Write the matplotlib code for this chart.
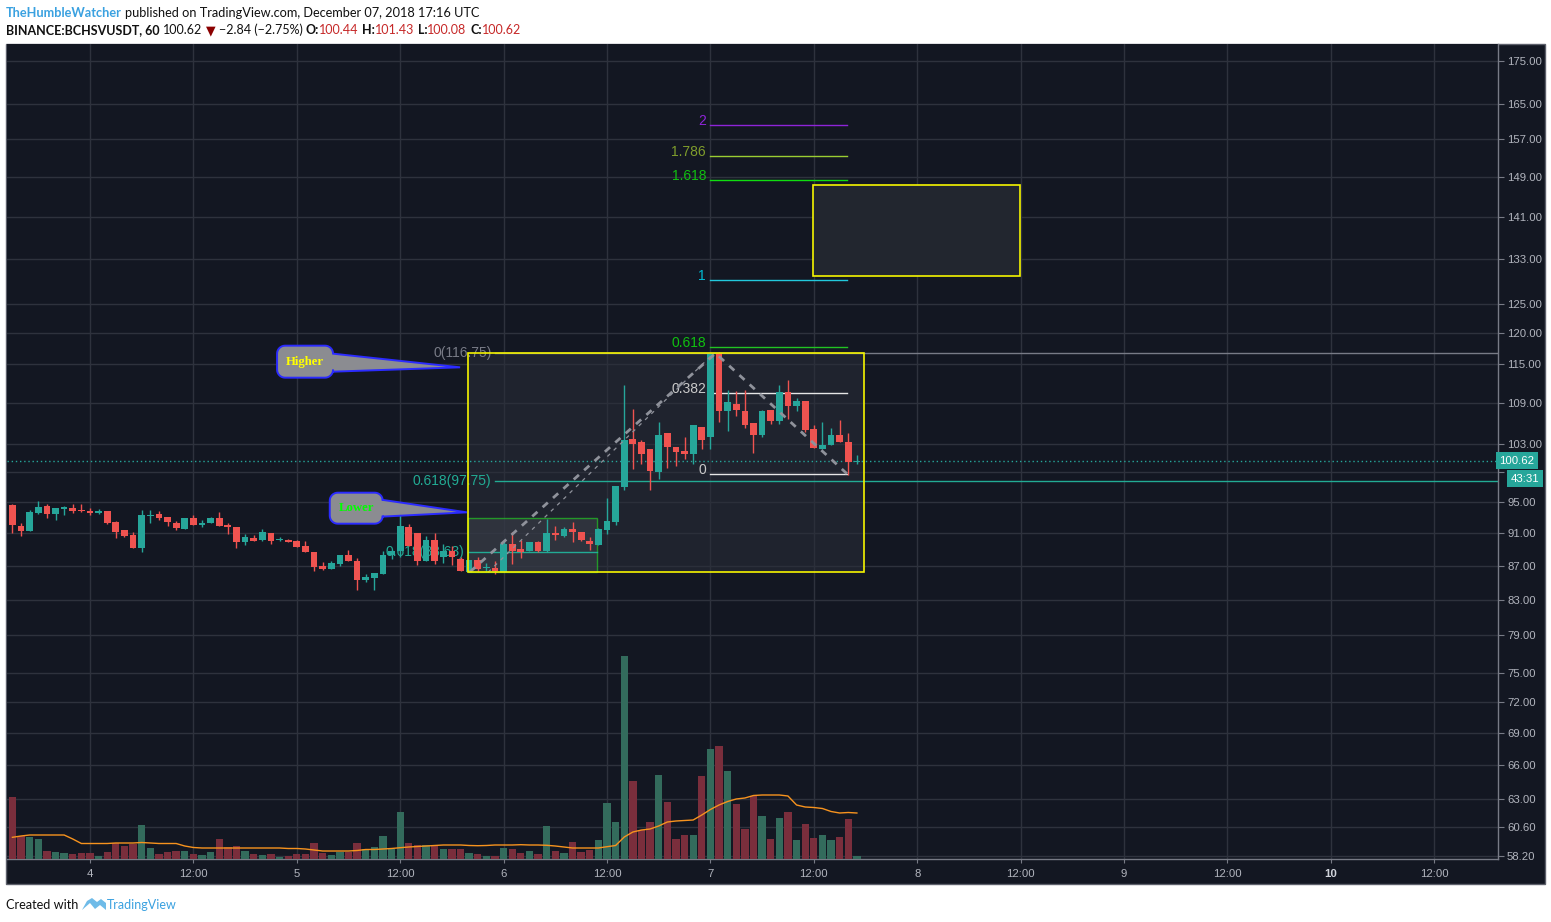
import matplotlib
matplotlib.use('Agg')
import numpy as np
import matplotlib.pyplot as plt
from matplotlib.patches import Rectangle, Polygon
from matplotlib.transforms import IdentityTransform
from matplotlib.ticker import FixedLocator, NullLocator

plt.rcParams['font.family'] = ['Liberation Sans', 'DejaVu Sans']

W, H = 1551, 922
BG = '#131722'
GRID = '#2e323d'
AXC = '#787b86'
TXT = '#b2b5be'
UP, DOWN = '#26a69a', '#ef5350'
VUP, VDOWN = '#336b5c', '#7a2e3c'

# hourly BCHSV/USDT candles, first bar Dec 3 15:00 UTC (x axis = hours from Dec 4 00:00)
first_hour = -9
opens = [94.6, 91.95, 91.3, 93.56, 94.43, 93.4, 94.1, 94.26, 94.0, 93.87,
         93.56, 93.8, 92.4, 91.4, 90.8, 89.1, 93.2, 93.5, 93.1, 92.3,
         91.56, 92.87, 92.0, 92.26, 92.87, 92.04, 91.8, 89.95, 90.4, 90.17,
         91.0, 90.1, 90.17, 90.0, 89.4, 88.7, 86.96, 86.57, 87.2, 88.3,
         87.6, 85.3, 85.55, 86.0, 88.3, 88.8, 91.8, 91.0, 87.5, 90.1,
         88.0, 88.8, 87.8, 86.2, 87.7, 86.7, 86.75, 86.2, 89.6, 89.0,
         88.8, 89.9, 88.8, 91.0, 90.7, 91.55, 91.1, 90.05, 89.55, 91.4,
         92.4, 97.0, 103.7, 103.3, 102.2, 99.0, 104.5, 102.6, 101.9, 101.5,
         105.4, 103.9, 116.75, 107.8, 108.8, 107.8, 106.0, 104.3, 108.0, 106.3,
         110.7, 108.6, 109.3, 105.1, 102.2, 102.8, 104.3, 103.3, 100.44]
highs = [94.7, 92.26, 94.0, 95.2, 94.7, 94.17, 94.5, 94.7, 94.8, 94.26,
         94.1, 93.8, 92.6, 91.4, 91.1, 94.0, 94.0, 93.8, 93.1, 92.6,
         92.87, 93.26, 92.7, 93.05, 93.65, 92.26, 91.8, 90.9, 90.8, 91.5,
         91.0, 90.55, 90.25, 90.1, 90.0, 88.7, 87.4, 87.5, 88.3, 88.9,
         87.9, 86.0, 86.1, 88.8, 88.9, 93.6, 92.1, 91.0, 90.7, 91.0,
         89.7, 89.4, 88.0, 87.7, 88.1, 87.3, 87.5, 90.15, 91.1, 90.15,
         89.9, 90.0, 92.85, 91.95, 91.8, 92.4, 91.1, 90.5, 91.6, 95.6,
         97.2, 111.7, 108.1, 103.6, 102.2, 106.2, 104.5, 102.6, 104.0, 105.7,
         105.4, 116.75, 117.0, 110.9, 110.8, 110.9, 106.0, 108.0, 108.0, 111.7,
         112.5, 109.8, 109.3, 105.7, 106.2, 105.2, 106.4, 104.5, 101.43]
lows = [91.0, 90.7, 91.3, 93.5, 92.9, 92.7, 93.3, 93.56, 93.7, 93.3,
        93.5, 92.2, 90.4, 90.5, 89.1, 88.6, 92.26, 92.7, 91.95, 91.4,
        91.5, 92.0, 91.8, 92.26, 91.87, 90.9, 89.1, 89.55, 90.0, 90.0,
        89.7, 90.0, 89.85, 89.3, 88.6, 86.4, 86.45, 86.57, 86.96, 87.5,
        84.1, 85.1, 84.1, 86.0, 87.8, 88.0, 89.4, 87.1, 87.5, 87.2,
        87.3, 87.1, 86.3, 86.2, 86.3, 86.3, 86.0, 86.2, 87.2, 87.9,
        88.8, 88.7, 88.7, 90.15, 90.5, 89.85, 90.0, 88.9, 89.5, 90.9,
        92.0, 96.6, 99.5, 100.2, 96.6, 98.1, 99.6, 99.9, 100.9, 100.2,
        102.3, 102.3, 106.2, 104.9, 107.1, 105.2, 101.7, 104.0, 105.9, 105.9,
        106.6, 107.8, 104.7, 102.4, 102.2, 102.8, 103.3, 98.6, 100.08]
closes = [92.0, 91.3, 93.65, 94.35, 93.4, 94.17, 94.35, 93.8, 93.8, 93.56,
          93.8, 92.26, 91.2, 90.67, 89.1, 93.26, 93.35, 92.9, 92.4, 91.6,
          92.87, 92.0, 92.3, 92.87, 91.87, 91.8, 89.95, 90.55, 90.0, 91.1,
          90.0, 90.3, 89.95, 89.3, 88.6, 86.8, 86.57, 87.3, 88.3, 87.5,
          85.3, 85.6, 86.1, 88.3, 88.8, 91.95, 89.4, 87.5, 90.1, 87.5,
          88.8, 88.0, 86.3, 87.7, 86.6, 86.8, 86.35, 89.6, 88.8, 88.7,
          89.9, 88.8, 91.0, 90.8, 91.55, 91.1, 90.1, 89.7, 91.55, 92.6,
          97.2, 103.6, 103.0, 101.6, 99.15, 104.2, 102.5, 101.8, 101.5, 105.7,
          103.5, 116.7, 107.8, 109.1, 108.0, 105.7, 104.2, 107.8, 106.3, 110.7,
          108.5, 109.3, 105.0, 102.4, 102.8, 104.2, 103.3, 100.44, 100.62]
volumes = [617, 227, 217, 203, 83, 73, 63, 53, 63, 63,
           33, 73, 163, 127, 153, 343, 113, 53, 73, 83,
           83, 53, 43, 73, 203, 123, 133, 83, 53, 43,
           53, 23, 33, 53, 53, 163, 63, 43, 73, 73,
           163, 103, 123, 233, 103, 473, 163, 143, 143, 143,
           103, 103, 103, 63, 53, 33, 33, 113, 103, 60,
           83, 53, 333, 83, 60, 173, 73, 93, 193, 563,
           373, 2033, 783, 293, 373, 843, 573, 203, 243, 243,
           833, 1103, 1133, 883, 553, 303, 633, 433, 203, 413,
           473, 193, 353, 213, 243, 193, 223, 403, 33]
volume_ma = [217, 230, 240, 240, 240, 240, 240, 200, 155, 155,
             155, 155, 160, 160, 160, 165, 160, 155, 155, 155,
             130, 115, 110, 110, 110, 110, 110, 110, 110, 110,
             110, 110, 105, 105, 100, 90, 80, 80, 80, 80,
             85, 95, 95, 100, 105, 113, 120, 125, 130, 135,
             140, 140, 140, 135, 133, 135, 140, 140, 140, 143,
             140, 140, 137, 130, 120, 110, 110, 110, 110, 123,
             135, 220, 270, 290, 300, 330, 370, 380, 385, 390,
             440, 495, 540, 575, 600, 610, 635, 640, 640, 640,
             630, 540, 520, 515, 505, 475, 460, 465, 460]

price_ticks = [58.2, 60.6, 63, 66, 69, 72, 75, 79, 83, 87, 91, 95, 99, 103,
               109, 115, 120, 125, 133, 141, 149, 157, 165, 175]
# the 99.00 label sits under the countdown badge, so it is left blank
price_labels = ['' if p == 99 else '%.2f' % p for p in price_ticks]
time_ticks = [0, 12, 24, 36, 48, 60, 72, 84, 96, 108, 120, 132, 144, 156]
time_labels = ['4', '12:00', '5', '12:00', '6', '12:00', '7', '12:00',
               '8', '12:00', '9', '12:00', '10', '12:00']

# trend based fib extension (levels drawn to the right of the peak)
ext_levels = ['0', '0.382', '0.618', '1', '1.618', '1.786', '2']
ext_prices = [98.75, 110.45, 117.75, 129.3, 148.4, 153.4, 160.2]
ext_line_colors = ['#e6e6e6', '#e6e6e6', '#22c322', '#22c8dc', '#10dd10', '#9acd32', '#8e24d8']
ext_text_colors = ['#c9c9c9', '#c9c9c9', '#10c010', '#00bcd4', '#10c010', '#7f9d2c', '#8e24d8']

last_price = 100.62

fig = plt.figure(figsize=(W / 100, H / 100), dpi=100, facecolor='white')
fig.add_artist(Rectangle((6 / W, 1 - 884 / H), 1539 / W, 840 / H, transform=fig.transFigure,
                         facecolor=BG, edgecolor='#5d606b', lw=1, zorder=-1))

ax = fig.add_axes([7 / W, (H - 859) / H, (1498 - 7) / W, (859 - 44) / H])
ax.set_facecolor(BG)
ax.set_yscale('log')
ax.set_xlim(-9.63, 163.4)
ax.set_ylim(57.94, 179.2)

hours = np.arange(len(opens)) + first_hour
o, hi, lo, c = (np.array(v) for v in (opens, highs, lows, closes))
rising = c >= o
cols = np.where(rising, UP, DOWN)

# volume pane on its own scale
ax_v = ax.twinx()
ax_v.set_ylim(0, 8150)
ax_v.bar(hours, volumes, width=0.85, color=np.where(rising, VUP, VDOWN), linewidth=0, zorder=2)
ax_v.plot(hours, volume_ma, color='#f7931e', lw=1.0, zorder=3)
ax_v.yaxis.set_visible(False)
for s in ax_v.spines.values():
    s.set_visible(False)

# axes styling
ax.yaxis.tick_right()
ax.yaxis.set_major_locator(FixedLocator(price_ticks))
ax.yaxis.set_minor_locator(NullLocator())
ax.set_yticklabels(price_labels)
ax.set_xticks(time_ticks)
ax.set_xticklabels(time_labels)
ax.tick_params(axis='y', colors=AXC, labelcolor=TXT, labelsize=8.2, length=4, width=0.8, pad=2.5)
ax.tick_params(axis='x', colors=AXC, labelcolor=TXT, labelsize=8.2, length=3, width=0.8, pad=4.5)
for lab in ax.get_xticklabels():
    if lab.get_text() == '10':
        lab.set_fontweight('bold')
        lab.set_color('#d1d4dc')
ax.grid(True, color=GRID, lw=1)
ax.set_axisbelow(True)
for side in ('top', 'left'):
    ax.spines[side].set_visible(False)
for side in ('right', 'bottom'):
    ax.spines[side].set_color(AXC)
    ax.spines[side].set_linewidth(1)

# drawings: rectangles
ax.add_patch(Rectangle((43.9, 86.2), 45.95, 116.75 - 86.2, facecolor='#2a2e39', alpha=0.55,
                       edgecolor='none', zorder=1))
ax.add_patch(Rectangle((43.9, 86.2), 45.95, 116.75 - 86.2, facecolor='none',
                       edgecolor='#f5f500', lw=1.2, zorder=5))
ax.add_patch(Rectangle((43.9, 86.2), 14.95, 92.93 - 86.2, facecolor='#3a3e48', alpha=0.6,
                       edgecolor='#22e022', lw=1.0, zorder=1.5))
ax.add_patch(Rectangle((83.9, 129.9), 24.05, 147.5 - 129.9, facecolor='#22262f',
                       edgecolor='#f5f500', lw=1.2, zorder=1.5))

# fib retracement levels
ax.plot([47.0, 163.4], [116.75, 116.75], color='#787b86', lw=1, zorder=2)
ax.plot([47.0, 163.4], [97.75, 97.75], color='#22ab94', lw=1, zorder=2)
ax.plot([43.9, 58.85], [88.63, 88.63], color='#22ab94', lw=1, zorder=2)
ax.text(46.6, 116.75, '0(116.75)', color='#787b86', fontsize=10, ha='right', va='center', zorder=2)
ax.text(46.6, 97.75, '0.618(97.75)', color='#22ab94', fontsize=10, ha='right', va='center', zorder=2)
ax.text(43.4, 88.63, '0.618(88.63)', color='#22ab94', fontsize=10, ha='right', va='center', zorder=2)

# fib extension levels
for lvl, p, lc, tc in zip(ext_levels, ext_prices, ext_line_colors, ext_text_colors):
    ax.plot([71.9, 87.9], [p, p], color=lc, lw=1, zorder=2)
    ax.text(71.5, p, lvl, color=tc, fontsize=10, ha='right', va='baseline', zorder=2)

# dashed trend lines of the extension tool
ax.plot([44.1, 72.6, 87.9], [86.25, 116.75, 98.75], color='#8f929b', lw=2,
        ls=(0, (2.5, 2.5)), zorder=4.5)
ax.plot([46.2, 72.2], [86.2, 116.5], color='#8f929b', lw=0.9, ls=(0, (3, 4)), zorder=4.5)

# candles
ax.vlines(hours, lo, hi, colors=cols, lw=1, zorder=3)
body_lo = np.minimum(o, c)
body_h = np.maximum(np.abs(c - o), 0.12)
ax.bar(hours, body_h, bottom=body_lo, width=0.78, color=cols, linewidth=0, zorder=4)

# last price line and axis labels
ax.axhline(last_price, color=UP, lw=1, ls=(0, (1, 2)), zorder=2)
ax.text(1.001, last_price, '100.62', transform=ax.get_yaxis_transform(), color='white',
        fontsize=8.2, va='center', ha='left', zorder=10, clip_on=False,
        bbox=dict(boxstyle='square,pad=0.3', fc=UP, ec='none'))
ax.text(1.0085, 98.15, '43:31', transform=ax.get_yaxis_transform(), color='white',
        fontsize=8.2, va='center', ha='left', zorder=10, clip_on=False,
        bbox=dict(boxstyle='square,pad=0.3', fc=UP, ec='none'))


def callout(center, tip, size, base, text, color):
    cx, cy = ax.transData.transform(center)
    tx, ty = ax.transData.transform(tip)
    w, h = size
    x0, x1, y0, y1 = cx - w / 2, cx + w / 2, cy - h / 2, cy + h / 2
    r = 8

    def arc(xc, yc, a0, a1):
        t = np.radians(np.linspace(a0, a1, 9))
        return list(zip(xc + r * np.cos(t), yc + r * np.sin(t)))

    pts = [(x1, cy + base[0]), (tx, ty), (x1, cy + base[1])]
    pts += arc(x1 - r, y0 + r, 0, -90)
    pts += arc(x0 + r, y0 + r, -90, -180)
    pts += arc(x0 + r, y1 - r, 180, 90)
    pts += arc(x1 - r, y1 - r, 90, 0)
    ax.add_patch(Polygon(pts, closed=True, transform=IdentityTransform(), facecolor='#8b8c91',
                         edgecolor='#2b2bff', lw=1.4, zorder=6))
    ax.text(center[0], center[1], text, color=color, fontsize=9.2, fontweight='bold',
            family='Liberation Serif', ha='center', va='center', zorder=7)


callout((24.96, 115.4), (42.95, 114.5), (56, 32), (8, -10), 'Higher', '#ffff00')
callout((30.9, 94.2), (43.73, 93.66), (53, 31), (8.3, -8.4), 'Lower', '#00ff00')

# header and footer text
HEAD_FONT = ['Lato', 'DejaVu Sans']
rend = fig.canvas.get_renderer()


def text_row(x, y, parts, size):
    texts = []
    for s, color, weight, gap in parts:
        if gap:
            x += 0.27 * size * 100 / 72
        t = fig.text(x / W, 1 - y / H, s, color=color, fontsize=size, fontweight=weight,
                     family=HEAD_FONT, va='baseline', ha='left')
        texts.append(t)
        x += t.get_window_extent(rend).width
    return texts, x


def fitted_row(x, y, parts, right):
    texts, end = text_row(x, y, parts, 10)
    for t in texts:
        t.remove()
    return text_row(x, y, parts, 10 * (right - x) / (end - x))


RED = '#c62828'
row1 = [('TheHumbleWatcher', '#3aa1e0', 'bold', False),
        ('published on TradingView.com, December 07, 2018 17:16 UTC', '#111111', 'normal', True)]
row2 = [('BINANCE:BCHSVUSDT, 60', '#111111', 'bold', False),
        ('100.62', '#111111', 'normal', True),
        ('\u25bc', '#8b0000', 'normal', True),
        ('\u22122.84 (\u22122.75%)', '#111111', 'normal', True),
        ('O:', '#111111', 'bold', True), ('100.44', RED, 'normal', False),
        ('H:', '#111111', 'bold', True), ('101.43', RED, 'normal', False),
        ('L:', '#111111', 'bold', True), ('100.08', RED, 'normal', False),
        ('C:', '#111111', 'bold', True), ('100.62', RED, 'normal', False)]
fitted_row(6, 17, row1, 480)
fitted_row(6, 34, row2, 523)
fitted_row(6, 909, [('Created with', '#111111', 'normal', False)], 79)
fitted_row(107, 909, [('TradingView', '#3aa1e0', 'normal', False)], 177)

logo = [(82, 910), (87, 901), (92, 898), (97, 902), (101, 899), (106, 903),
        (106, 910), (100, 905), (95, 909), (90, 903)]
fig.add_artist(Polygon([(x, H - y) for x, y in logo], closed=True, transform=IdentityTransform(),
                       facecolor='#6fbbe8', edgecolor='none'))

fig.savefig('out.png', dpi=100, facecolor='white')
